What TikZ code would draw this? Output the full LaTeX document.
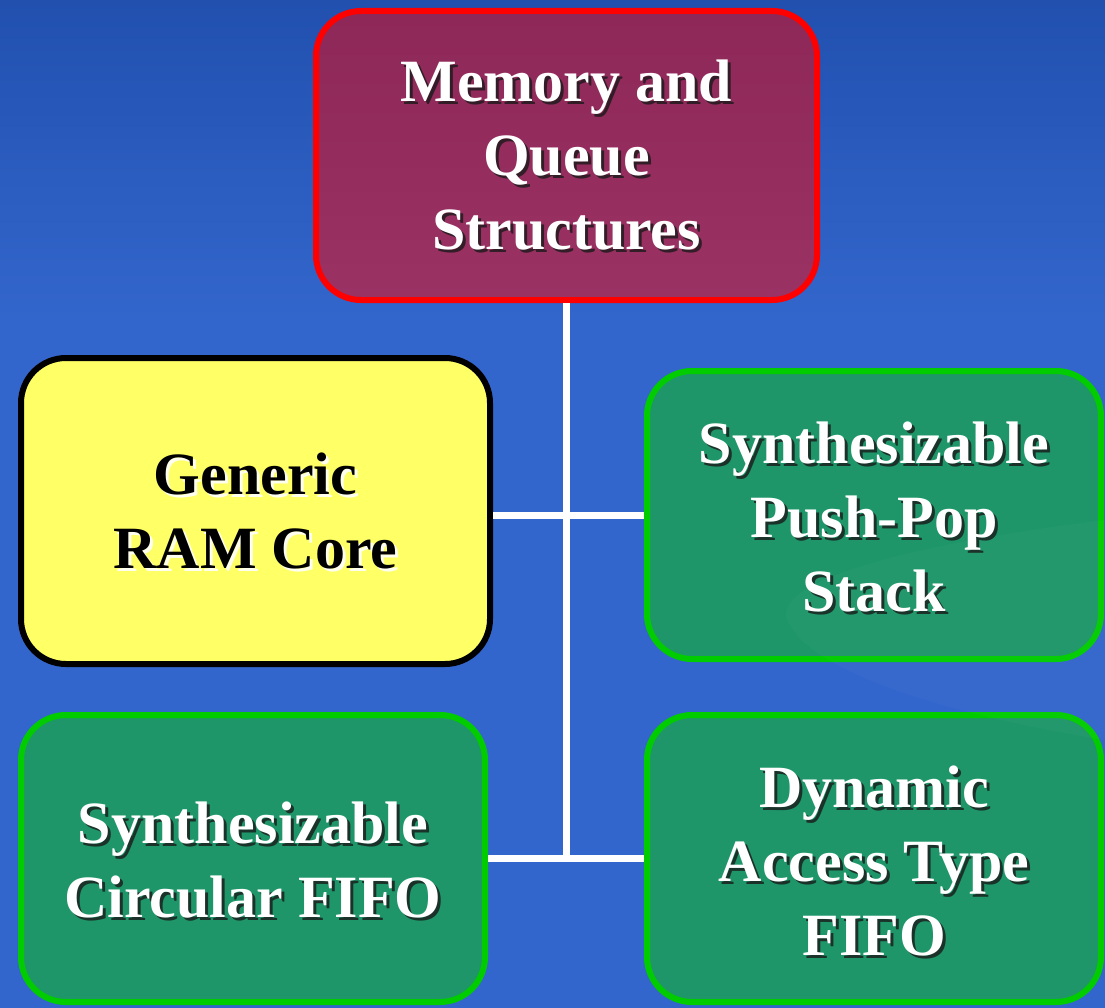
\documentclass[tikz,border=0pt]{standalone}
\usepackage{fontspec}
\setmainfont{Liberation Serif}
\definecolor{bgtop}{HTML}{2150AF}
\definecolor{bgmain}{HTML}{3366CC}
\definecolor{maroontop}{HTML}{8E2858}
\definecolor{maroonbot}{HTML}{9A3264}
\definecolor{boxgreen}{HTML}{1E9669}
\definecolor{edgegreen}{HTML}{00CC00}
\definecolor{paleyellow}{HTML}{FFFF66}
\definecolor{shadowdark}{HTML}{1A1A1A}
\tikzset{
  box/.style={rectangle, rounded corners=45pt, line width=6pt, inner sep=0pt},
  topbox/.style={box, top color=maroontop, bottom color=maroonbot, draw=red},
  ylwbox/.style={box, fill=paleyellow, draw=black},
  grnbox/.style={box, fill=boxgreen, draw=edgegreen},
  label/.style={align=center, inner sep=0pt,
    font=\fontsize{60}{74}\selectfont\bfseries},
  wlabel/.style={label, text=white},
  blabel/.style={label, text=black},
  wshadow/.style={label, text=shadowdark, opacity=0.8},
  bshadow/.style={label, text=white, opacity=0.9},
  link/.style={draw=white, line width=7pt}
}
\begin{document}
\begin{tikzpicture}[x=1pt, y=-1pt]
  % background
  \fill[bgmain] (0,0) rectangle (1105,1008);
  \shade[top color=bgtop, bottom color=bgmain] (0,0) rectangle (1105,320);
  \useasboundingbox (0,0) rectangle (1105,1008);

  % boxes
  \node[topbox, minimum width=501pt, minimum height=289pt] (top) at (566.5,155.5) {};
  \node[ylwbox, minimum width=469pt, minimum height=306pt] (ram) at (255.5,511) {};
  \node[grnbox, minimum width=454pt, minimum height=288pt] (stack) at (874,515) {};
  \node[grnbox, minimum width=464pt, minimum height=287pt] (circ) at (253,858.5) {};
  \node[grnbox, minimum width=454pt, minimum height=287pt] (dyn) at (874,858.5) {};

  % connectors
  \coordinate (junction) at (top.south |- circ.east);
  \coordinate (ramtap) at (ram.east |- stack.west);
  \draw[link] (top.south) -- (junction);
  \draw[link] (ramtap) -- (stack.west);
  \draw[link] (circ.east) -- (dyn.west);

  % faint swoosh across the lower right
  \fill[white, opacity=0.025]
    (1105,520) .. controls (900,545) and (760,585) .. (790,625)
    .. controls (820,680) and (980,720) .. (1105,740) -- cycle;

  % drop shadows of the labels
  \node[wshadow] (topS) at ([shift={(3,3)}]top.center) {Memory and\\Queue\\Structures};
  \node[bshadow] (ramS) at ([shift={(3,3)}]ram.center) {Generic\\RAM Core};
  \node[wshadow] (stackS) at ([shift={(3,5)}]stack.center) {Synthesizable\\Push-Pop\\Stack};
  \node[wshadow] (circS) at ([shift={(3,5)}]circ.center) {Synthesizable\\Circular FIFO};
  \node[wshadow] (dynS) at ([shift={(3,5)}]dyn.center) {Dynamic\\Access Type\\FIFO};

  % labels
  \node[wlabel] (topT) at (top.center) {Memory and\\Queue\\Structures};
  \node[blabel] (ramT) at (ram.center) {Generic\\RAM Core};
  \node[wlabel] (stackT) at ([shift={(0,2)}]stack.center) {Synthesizable\\Push-Pop\\Stack};
  \node[wlabel] (circT) at ([shift={(0,2)}]circ.center) {Synthesizable\\Circular FIFO};
  \node[wlabel] (dynT) at ([shift={(0,2)}]dyn.center) {Dynamic\\Access Type\\FIFO};
\end{tikzpicture}
\end{document}
